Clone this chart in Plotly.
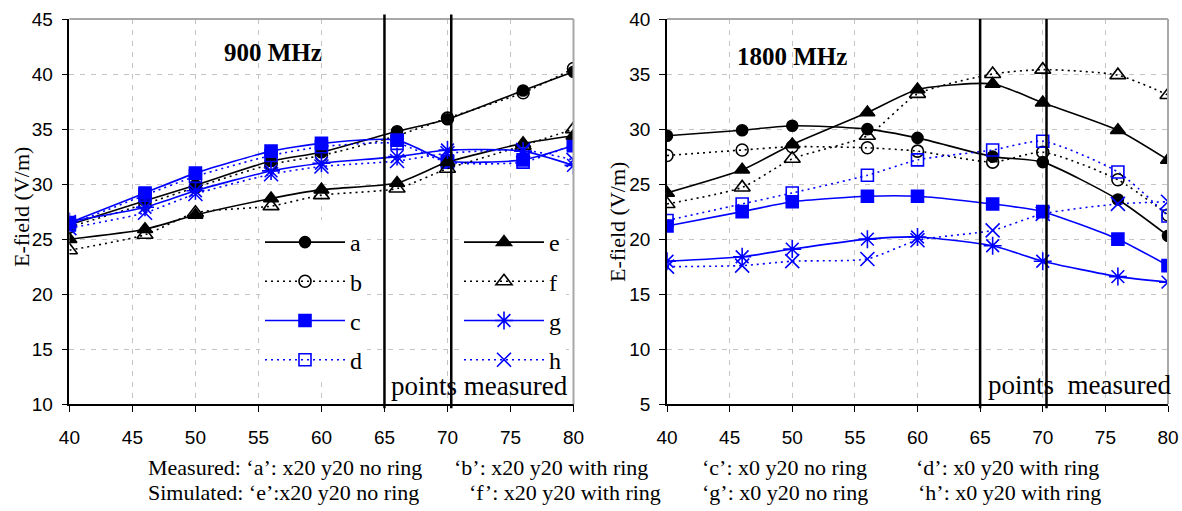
import plotly.graph_objects as go

# ---------------- data ----------------
distance = [40, 46, 50, 56, 60, 66, 70, 76, 80]
x_ticks = [40, 45, 50, 55, 60, 65, 70, 75, 80]
y_ticks_900 = [10, 15, 20, 25, 30, 35, 40, 45]
y_ticks_1800 = [5, 10, 15, 20, 25, 30, 35, 40]
series_names = ["a", "b", "c", "d", "e", "f", "g", "h"]

# 900 MHz
a_900 = [26.3, 28.5, 29.9, 32.1, 32.9, 34.8, 35.9, 38.5, 40.2]
b_900 = [26.1, 28.2, 29.7, 31.8, 32.6, 34.4, 36.0, 38.3, 40.5]
c_900 = [26.5, 29.2, 31.0, 33.0, 33.7, 34.0, 32.1, 32.2, 33.5]
d_900 = [26.3, 29.0, 30.7, 32.6, 33.4, 33.7, 32.0, 32.0, 33.6]
e_900 = [25.0, 25.9, 27.2, 28.7, 29.5, 30.1, 32.0, 33.7, 34.4]
f_900 = [24.0, 25.4, 27.4, 28.0, 29.0, 29.6, 31.4, 33.5, 35.0]
g_900 = [26.6, 27.9, 29.4, 31.2, 31.9, 32.5, 33.1, 33.0, 31.7]
h_900 = [26.0, 27.4, 29.1, 30.9, 31.6, 32.1, 32.8, 33.1, 32.2]

# 1800 MHz
a_1800 = [29.4, 29.9, 30.3, 30.0, 29.2, 27.5, 27.0, 23.6, 20.3]
b_1800 = [27.6, 28.1, 28.4, 28.3, 28.0, 27.0, 27.9, 25.4, 22.2]
c_1800 = [21.2, 22.5, 23.4, 23.9, 23.9, 23.2, 22.5, 20.0, 17.6]
d_1800 = [21.7, 23.2, 24.2, 25.8, 27.2, 28.1, 28.9, 26.1, 22.1]
e_1800 = [24.2, 26.3, 28.6, 31.5, 33.6, 34.1, 32.4, 29.9, 27.2]
f_1800 = [23.2, 24.7, 27.3, 29.4, 33.2, 35.0, 35.4, 34.9, 33.1]
g_1800 = [18.0, 18.4, 19.1, 20.0, 20.2, 19.4, 18.0, 16.6, 16.1]
h_1800 = [17.5, 17.6, 18.0, 18.2, 19.9, 20.8, 22.3, 23.2, 23.4]

# boundaries of the "points measured" region
measured_bounds = [65, 70.3]

caption_measured = ["Measured: \u2018a\u2019: x20 y20 no ring", "\u2018b\u2019: x20 y20 with ring",
                    "\u2018c\u2019: x0 y20 no ring", "\u2018d\u2019: x0 y20 with ring"]
caption_simulated = ["Simulated: \u2018e\u2019:x20 y20 no ring", "\u2018f\u2019: x20 y20 with ring",
                     "\u2018g\u2019: x0 y20 no ring", "\u2018h\u2019: x0 y20 with ring"]

data_900 = [a_900, b_900, c_900, d_900, e_900, f_900, g_900, h_900]
data_1800 = [a_1800, b_1800, c_1800, d_1800, e_1800, f_1800, g_1800, h_1800]

# ---------------- styles ----------------
BLUE = "#0000FF"
BLACK = "#000000"
colors = [BLACK, BLACK, BLUE, BLUE, BLACK, BLACK, BLUE, BLUE]
dashes = ["solid", "2px,4px", "solid", "2px,4px", "solid", "2px,4px", "solid", "2px,4px"]
symbols = ["circle", "circle-open", "square", "square-open",
           "triangle-up", "triangle-up-open", "asterisk-open", "x-thin-open"]
sizes = [11, 12, 12, 12, 13, 14, 15, 14]
legends = ["legend"] * 4 + ["legend2"] * 4

W, H = 1182, 511
SERIF = "Liberation Serif"
SANS = "Liberation Sans"

fig = go.Figure()

for panel, (dataset, xa, ya) in enumerate([(data_900, "x", "y"), (data_1800, "x2", "y2")]):
    for i, name in enumerate(series_names):
        fig.add_trace(go.Scatter(
            x=distance, y=dataset[i], name=name, mode="lines+markers",
            xaxis=xa, yaxis=ya,
            legendgroup=name, showlegend=(panel == 0), legend=legends[i],
            line=dict(color=colors[i], width=1.6, dash=dashes[i], shape="spline", smoothing=0.6),
            marker=dict(symbol=symbols[i], size=sizes[i], color=colors[i],
                        line=dict(color=colors[i], width=1.6)),
        ))

y_dom = [1 - 404.3 / H, 1 - 19 / H]
x1_dom = [69.4 / W, 573.5 / W]
x2_dom = [667 / W, 1168 / W]

common_x = dict(range=[40, 80], tickvals=x_ticks, showgrid=True, gridcolor="#c4c4c4",
                griddash="5px,6px", gridwidth=1, showline=True, linecolor=BLACK, linewidth=1.5,
                ticks="outside", ticklen=6, tickwidth=1.2, tickcolor=BLACK,
                tickfont=dict(family=SANS, size=19, color=BLACK), ticklabelstandoff=9,
                zeroline=False, automargin=False)
common_y = dict(showgrid=True, gridcolor="#c4c4c4", griddash="5px,6px", gridwidth=1,
                showline=True, linecolor=BLACK, linewidth=1.5, ticks="outside", ticklen=6,
                tickwidth=1.2, tickcolor=BLACK, tickfont=dict(family=SANS, size=19, color=BLACK),
                ticklabelstandoff=5, zeroline=False, automargin=False)

fig.update_layout(
    width=W, height=H, margin=dict(l=0, r=0, t=0, b=0, autoexpand=False),
    paper_bgcolor="white", plot_bgcolor="white",
    xaxis=dict(domain=x1_dom, anchor="y", **common_x),
    yaxis=dict(domain=y_dom, anchor="x", range=[10, 45], tickvals=y_ticks_900, **common_y),
    xaxis2=dict(domain=x2_dom, anchor="y2", **common_x),
    yaxis2=dict(domain=y_dom, anchor="x2", range=[5, 40], tickvals=y_ticks_1800, **common_y),
    legend=dict(x=260 / W, y=1 - 220 / H, xanchor="left", yanchor="top", xref="paper", yref="paper",
                bgcolor="white", borderwidth=0, itemwidth=80, tracegroupgap=5,
                traceorder="grouped", font=dict(family=SERIF, size=24, color=BLACK)),
    legend2=dict(x=459 / W, y=1 - 220 / H, xanchor="left", yanchor="top", xref="paper", yref="paper",
                 bgcolor="white", borderwidth=0, itemwidth=80, tracegroupgap=5,
                 traceorder="grouped", font=dict(family=SERIF, size=24, color=BLACK)),
)

shapes = []
# gray plot-area border (top and right)
for dom in (x1_dom, x2_dom):
    shapes.append(dict(type="line", xref="paper", yref="paper", x0=dom[0], x1=dom[1], y0=y_dom[1], y1=y_dom[1],
                       line=dict(color="#a8a8a8", width=2)))
    shapes.append(dict(type="line", xref="paper", yref="paper", x0=dom[1], x1=dom[1], y0=y_dom[0], y1=y_dom[1],
                       line=dict(color="#a8a8a8", width=2)))
# "points measured" boundaries
for xa, ya, top in (("x", "y", 1.012), ("x2", "y2", 1.0)):
    for xb in measured_bounds:
        shapes.append(dict(type="line", xref=xa, yref=ya + " domain", x0=xb, x1=xb, y0=-0.01, y1=top,
                           line=dict(color=BLACK, width=2.5)))
fig.update_layout(shapes=shapes)


def label(text, px, py, size, xanchor="center", angle=0, bold=False):
    return dict(text=f"<b>{text}</b>" if bold else text, x=px / W, y=1 - py / H,
                xref="paper", yref="paper", xanchor=xanchor, yanchor="middle",
                textangle=angle, showarrow=False,
                font=dict(family=SERIF, size=size, color=BLACK))


ann = [
    label("900 MHz", 273, 53, 25, bold=True),
    label("1800 MHz", 792, 57, 25, bold=True),
    label("points measured", 389, 386, 27, xanchor="left"),
    label("points\u00a0 measured", 986, 385, 27, xanchor="left"),
    label("E-field (V/m)", 21, 207, 22, angle=-90),
    label("E-field (V/m)", 617, 222, 22, angle=-90),
]
starts_m = [146, 452, 700, 914]
starts_s = [146, 467, 700, 916]
for txt, xs in zip(caption_measured, starts_m):
    ann.append(label(txt, xs, 467, 22, xanchor="left"))
for txt, xs in zip(caption_simulated, starts_s):
    ann.append(label(txt, xs, 492, 22, xanchor="left"))
fig.update_layout(annotations=ann)

fig.write_html("out.html", config={"displayModeBar": False},
               post_script="document.body.style.margin='0';document.body.style.overflow='hidden';")
